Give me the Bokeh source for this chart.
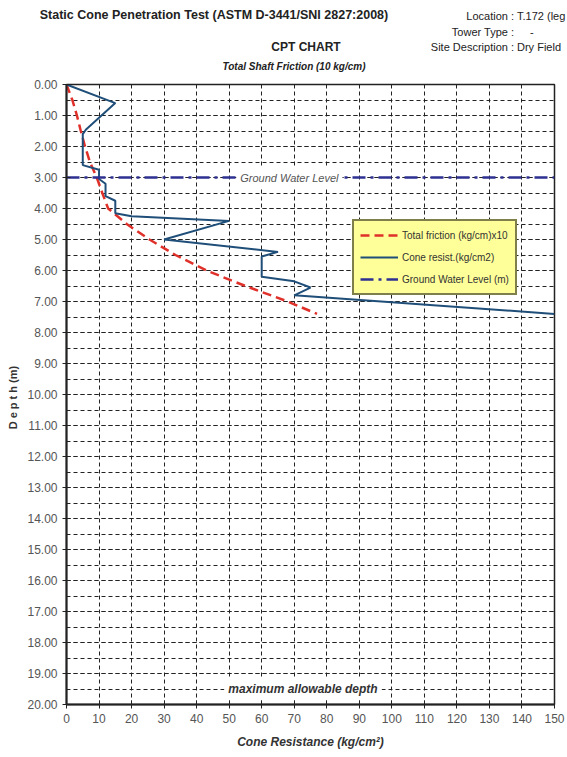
from bokeh.plotting import figure
from bokeh.layouts import column
from bokeh.models import (Range1d, SingleIntervalTicker, PrintfTickFormatter,
                          Label, Legend, LegendItem, Div)
from bokeh.embed import file_html
from bokeh.resources import INLINE

# ---- data ----
cone_depth = [0.0, 0.6, 1.45, 1.6, 2.6, 2.75, 3.05, 3.2, 3.6, 3.75, 4.15, 4.25,
              4.4, 5.0, 5.4, 5.55, 6.2, 6.35, 6.55, 6.8, 7.4]
cone_resist = [0, 15, 6, 5, 5, 10, 10, 12, 12, 15, 15, 20,
               50, 30, 65, 60, 60, 70, 75, 70, 150]

friction_depth = [0.0, 0.5, 1.0, 1.5, 2.0, 2.5, 3.0, 3.5, 4.0, 4.5, 5.0, 5.5,
                  6.0, 6.5, 7.0, 7.4]
friction_x10 = [0, 1.8, 3.2, 4.4, 5.7, 7.2, 9.3, 11, 12.8, 18.5, 25.5, 33.5,
                43, 55, 68, 77]

ground_water_level = 3.0
max_allowable_depth = 19.5
x_min, x_max = 0, 150
depth_min, depth_max = 0, 20

header_texts = [
    # text, x, y, size, weight/style, anchor
    ("Static Cone Penetration Test (ASTM D-3441/SNI 2827:2008)", 214, 15, 12.5, "bold", "center"),
    ("Location :", 514, 16, 11, "normal", "right"),
    ("T.172 (leg", 517, 16, 11, "normal", "left"),
    ("Tower Type :", 514, 32, 11, "normal", "right"),
    ("-", 530, 32, 11, "normal", "left"),
    ("CPT CHART", 306, 47, 12, "bold", "center"),
    ("Site Description :", 514, 47, 11, "normal", "right"),
    ("Dry Field", 517, 47, 11, "normal", "left"),
    ("Total Shaft Friction (10 kg/cm)", 294, 67, 10, "bold italic", "center"),
]

FONT = "Liberation Sans"
TXT = "#555555"
DARK = "#222222"
W = 567
HDR_H = 76

# ---------------- header (HTML text) ----------------
spans = []
for t, x, y, size, style, anchor in header_texts:
    tx = {"left": "0", "center": "-50%", "right": "-100%"}[anchor]
    weight = "bold" if "bold" in style else "normal"
    fstyle = "italic" if "italic" in style else "normal"
    spans.append(
        f'<span style="position:absolute;left:{x}px;top:{y}px;'
        f'transform:translate({tx},-50%);white-space:nowrap;'
        f'font-size:{size}px;font-weight:{weight};font-style:{fstyle};">{t}</span>')
hdr = Div(text=(f'<div style="position:relative;width:{W}px;height:{HDR_H}px;'
                f"font-family:'{FONT}';color:{DARK};line-height:1;\">"
                + "".join(spans) + "</div>"),
          width=W, height=HDR_H, margin=0)

# ---------------- main chart ----------------
p = figure(width=W, height=681, x_range=Range1d(x_min, x_max),
           y_range=Range1d(depth_max, depth_min), output_backend="svg",
           toolbar_location=None, min_border_left=66, min_border_right=13,
           min_border_top=8, min_border_bottom=53, margin=0)
p.background_fill_color = "white"
p.border_fill_color = "white"
p.outline_line_color = DARK
p.outline_line_width = 1.5

p.xaxis.ticker = SingleIntervalTicker(interval=10, num_minor_ticks=0)
p.yaxis.ticker = SingleIntervalTicker(interval=1, num_minor_ticks=2)
p.yaxis.formatter = PrintfTickFormatter(format="%.2f")
for ax in (p.xaxis[0], p.yaxis[0]):
    ax.axis_line_color = DARK
    ax.axis_line_width = 2
    ax.major_tick_line_color = DARK
    ax.major_tick_in = 4
    ax.major_tick_out = 4
    ax.minor_tick_line_color = None
    ax.major_label_text_font = FONT
    ax.major_label_text_font_size = "12px"
    ax.major_label_text_color = TXT
    ax.axis_label_text_font = FONT
    ax.axis_label_text_color = "#333333"
p.xaxis.major_label_standoff = 5
p.yaxis.major_label_standoff = 5
p.xaxis.axis_label = "Cone Resistance (kg/cm²)"
p.xaxis.axis_label_text_font_size = "12px"
p.xaxis.axis_label_text_font_style = "bold italic"
p.xaxis.axis_label_standoff = 9
p.yaxis.axis_label = "D e p t h   (m)"
p.yaxis.axis_label_text_font_size = "11px"
p.yaxis.axis_label_text_font_style = "bold"
p.yaxis.axis_label_standoff = 5

for g in (p.xgrid[0], p.ygrid[0]):
    g.grid_line_color = DARK
    g.grid_line_dash = "4 3"
    g.grid_line_width = 1
p.ygrid.minor_grid_line_color = DARK
p.ygrid.minor_grid_line_dash = "4 3"
p.ygrid.minor_grid_line_width = 1

r_fric = p.line(friction_x10, friction_depth, line_color="#E0302A",
                line_width=2.5, line_dash="9 5")
r_cone = p.line(cone_resist, cone_depth, line_color="#1F4E79", line_width=2)
r_gwl = p.line([x_min, x_max], [ground_water_level, ground_water_level],
               line_color="#2E3192", line_width=2.5, line_dash="13 5 3 5")

p.add_layout(Label(x=68.5, y=ground_water_level, text="Ground Water Level",
                   text_font=FONT, text_font_size="11px", text_font_style="italic",
                   text_color=TXT, text_align="center", text_baseline="middle",
                   background_fill_color="white", padding=4))
p.add_layout(Label(x=72.7, y=max_allowable_depth, text="maximum allowable depth",
                   text_font=FONT, text_font_size="12px",
                   text_font_style="bold italic", text_color="#333333",
                   text_align="center", text_baseline="middle",
                   background_fill_color="white", padding=4))

legend = Legend(items=[
    LegendItem(label="Total friction (kg/cm)x10", renderers=[r_fric]),
    LegendItem(label="Cone resist.(kg/cm2)", renderers=[r_cone]),
    LegendItem(label="Ground Water Level (m)", renderers=[r_gwl]),
], location=(286, 409))
legend.background_fill_color = "#FFFF99"
legend.background_fill_alpha = 1
legend.border_line_color = "black"
legend.border_line_width = 2
legend.label_text_font = FONT
legend.label_text_font_size = "10px"
legend.label_text_color = "#333333"
legend.glyph_width = 38
legend.glyph_height = 16
legend.label_height = 16
legend.spacing = 6
legend.padding = 6
legend.margin = 0
legend.label_standoff = 4
p.add_layout(legend)

layout = column(hdr, p, spacing=0)
open("out.html", "w").write(file_html(layout, INLINE))
